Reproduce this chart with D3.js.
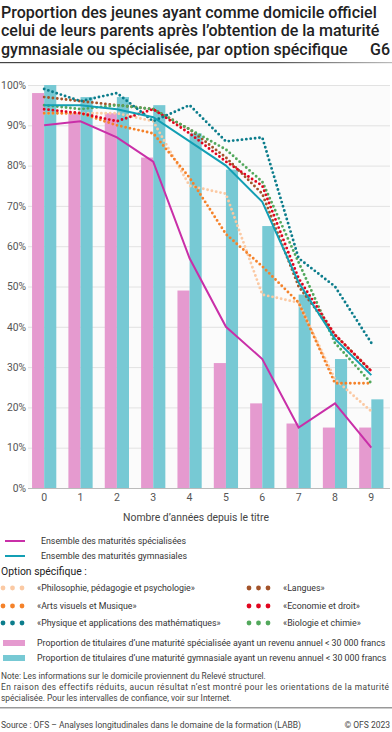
<!DOCTYPE html>
<html>
<head>
<meta charset="utf-8">
<script src="https://cdn.jsdelivr.net/npm/d3@7"></script>
<style>
  html, body { margin: 0; padding: 0; background: #fff; }
  svg { display: block; font-family: Roboto, sans-serif; }
</style>
</head>
<body>
<div id="chart"></div>
<script>
const years = [0, 1, 2, 3, 4, 5, 6, 7, 8, 9];
const yTicks = [0, 10, 20, 30, 40, 50, 60, 70, 80, 90, 100];

// bars: share with annual income < 30 000 francs
const barSpec = [98, 93, 93, 82, 49, 31, 21, 16, 15, 15];
const barGym = [100, 97, 97, 95, 88, 79, 65, 48, 32, 22];

// solid lines
const lineSpec = [90, 91, 87, 81, 57, 40, 32, 15, 21, 10];
const lineGym = [95, 95, 94, 92, 86, 80, 71, 51, 37, 28];

// dotted lines, option spécifique
const philo = [93, 93, 93, 91, 75, 73, 48, 46, 27, 19];
const arts = [93, 93, 90, 88, 77, 63, 55, 46, 26, 26];
const physique = [99, 96, 98, 91, 95, 86, 87, 57, 50, 36];
const langues = [97, 96, 95, 94, 89, 82, 73, 50, 38, 29];
const economie = [94, 93, 91, 94, 88, 81, 75, 52, 38, 29];
const biologie = [95, 94, 95, 94, 89, 84, 76, 56, 36, 26];

const dotted = [
  { name: '«Philosophie, pédagogie et psychologie»', values: philo, color: '#fbc9a3' },
  { name: '«Arts visuels et Musique»', values: arts, color: '#f5822a' },
  { name: '«Langues»', values: langues, color: '#a3532a' },
  { name: '«Biologie et chimie»', values: biologie, color: '#52a85c' },
  { name: '«Economie et droit»', values: economie, color: '#e1061f' },
  { name: '«Physique et applications des mathématiques»', values: physique, color: '#0c7d8c' },
];

const W = 392, H = 732;
const svg = d3.select('#chart').append('svg').attr('width', W).attr('height', H);

// title
const title = svg.append('text').attr('x', 1).attr('fill', '#222')
  .attr('font-size', '16px').attr('font-weight', 500);
['Proportion des jeunes ayant comme domicile officiel',
 'celui de leurs parents après l’obtention de la maturité',
 'gymnasiale ou spécialisée, par option spécifique'].forEach((t, i) => {
  title.append('tspan').attr('x', 1).attr('y', 17.5 + i * 18.5).text(t);
});
svg.append('text').attr('x', 390).attr('y', 54.5).attr('text-anchor', 'end')
  .attr('font-size', '16px').attr('font-weight', 500).attr('fill', '#222').text('G6');

const grad = svg.append('defs').append('linearGradient').attr('id', 'sep');
grad.append('stop').attr('offset', '0%').attr('stop-color', '#444');
grad.append('stop').attr('offset', '70%').attr('stop-color', '#555');
grad.append('stop').attr('offset', '100%').attr('stop-color', '#bbb');
svg.append('rect').attr('x', 0).attr('y', 62).attr('width', W).attr('height', 1.2).attr('fill', 'url(#sep)');

// scales
const x = d3.scaleBand().domain(years).range([26, 389.5]);
const xs = d3.scaleBand().domain(['spec', 'gym']).range([0, x.bandwidth()]).paddingOuter(0.5);
const y = d3.scaleLinear().domain([0, 100]).range([488, 85]);
const cx = d => x(d) + x.bandwidth() / 2;

svg.append('rect').attr('x', 28).attr('y', y(100)).attr('width', 362).attr('height', y(0) - y(100))
  .attr('fill', '#fbfbfb');

// grid + y labels
svg.append('g').attr('transform', 'translate(28,0)')
  .call(d3.axisLeft(y).tickValues(yTicks).tickSize(-362).tickFormat(d => d + '%'))
  .call(g => g.select('.domain').remove())
  .call(g => g.selectAll('.tick line').attr('stroke', d => d === 0 ? '#bbb' : '#e2e2e2'))
  .call(g => g.selectAll('.tick text').attr('x', -2).attr('fill', '#555')
    .attr('font-size', '10.3px').attr('font-family', 'Roboto, sans-serif'));

// bars
const bars = svg.append('g');
bars.selectAll('.b-spec').data(years).join('rect').attr('class', 'b-spec')
  .attr('x', d => x(d) + xs('spec')).attr('width', xs.bandwidth())
  .attr('y', d => y(barSpec[d])).attr('height', d => y(0) - y(barSpec[d]))
  .attr('fill', '#e59acf');
bars.selectAll('.b-gym').data(years).join('rect').attr('class', 'b-gym')
  .attr('x', d => x(d) + xs('gym')).attr('width', xs.bandwidth())
  .attr('y', d => y(barGym[d])).attr('height', d => y(0) - y(barGym[d]))
  .attr('fill', '#77c9d4');

// x axis labels
svg.append('g').attr('transform', `translate(0,${y(0)})`)
  .call(d3.axisBottom(x).tickSize(0).tickPadding(6))
  .call(g => g.select('.domain').remove())
  .call(g => g.selectAll('.tick text').attr('fill', '#555')
    .attr('font-size', '10.5px').attr('font-family', 'Roboto, sans-serif'));
svg.append('text').attr('x', 196).attr('y', 521).attr('text-anchor', 'middle')
  .attr('fill', '#444').attr('font-size', '10.4px').text('Nombre d’années depuis le titre');

// lines
const line = d3.line().x((d, i) => cx(years[i])).y(d => y(d));
svg.append('path').datum(lineSpec).attr('d', line).attr('fill', 'none')
  .attr('stroke', '#c92fa8').attr('stroke-width', 2);
svg.selectAll('.dot-line').data(dotted).join('path').attr('class', 'dot-line')
  .attr('d', d => line(d.values)).attr('fill', 'none').attr('stroke', d => d.color)
  .attr('stroke-width', 2.9).attr('stroke-linecap', 'round').attr('stroke-dasharray', '0 4.4');
svg.append('path').datum(lineGym).attr('d', line).attr('fill', 'none')
  .attr('stroke', '#139fb4').attr('stroke-width', 2);

// legend
const leg = svg.append('g').attr('font-size', '8.8px').attr('fill', '#333');
const solid = [
  { name: 'Ensemble des maturités spécialisées', color: '#c92fa8', y: 541 },
  { name: 'Ensemble des maturités gymnasiales', color: '#139fb4', y: 556 },
];
solid.forEach(s => {
  leg.append('line').attr('x1', 5).attr('x2', 25).attr('y1', s.y).attr('y2', s.y)
    .attr('stroke', s.color).attr('stroke-width', 2);
  leg.append('text').attr('x', 41).attr('y', s.y).attr('dy', '0.35em').text(s.name);
});
leg.append('text').attr('x', 1).attr('y', 571).attr('dy', '0.35em').attr('font-size', '10.4px')
  .attr('fill', '#222').text('Option spécifique :');

const legPos = [
  { x: 3, y: 588 }, { x: 3, y: 606 }, { x: 249, y: 588 },
  { x: 249, y: 623 }, { x: 249, y: 606 }, { x: 3, y: 623 },
];
dotted.forEach((d, i) => {
  const p = legPos[i];
  [0, 9.5, 19].forEach(o => leg.append('circle').attr('cx', p.x + o).attr('cy', p.y).attr('r', 2.4)
    .attr('fill', d.color));
  leg.append('text').attr('x', p.x + 34).attr('y', p.y).attr('dy', '0.35em').text(d.name);
});

const barLeg = [
  { name: 'Proportion de titulaires d’une maturité spécialisée ayant un revenu annuel < 30 000 francs', color: '#e59acf', y: 643 },
  { name: 'Proportion de titulaires d’une maturité gymnasiale ayant un revenu annuel < 30 000 francs', color: '#77c9d4', y: 658 },
];
barLeg.forEach(b => {
  leg.append('rect').attr('x', 3).attr('y', b.y - 3).attr('width', 22).attr('height', 6).attr('fill', b.color);
  leg.append('text').attr('x', 37).attr('y', b.y).attr('dy', '0.35em').text(b.name);
});

// notes
const note = svg.append('g').attr('font-size', '8.4px').attr('fill', '#444');
note.append('text').attr('x', 1).attr('y', 679).text('Note: Les informations sur le domicile proviennent du Relevé structurel.');
note.append('text').attr('x', 1).attr('y', 690).attr('textLength', 388).attr('lengthAdjust', 'spacing')
  .text('En raison des effectifs réduits, aucun résultat n’est montré pour les orientations de la maturité');
note.append('text').attr('x', 1).attr('y', 701).text('spécialisée. Pour les intervalles de confiance, voir sur Internet.');

svg.append('rect').attr('x', 0).attr('y', 707).attr('width', W).attr('height', 1.5).attr('fill', '#999');
note.append('text').attr('x', 1).attr('y', 728).attr('font-size', '8.5px')
  .text('Source : OFS – Analyses longitudinales dans le domaine de la formation (LABB)');
note.append('text').attr('x', 390).attr('y', 728).attr('font-size', '8.5px').attr('text-anchor', 'end').text('© OFS 2023');
</script>
</body>
</html>
